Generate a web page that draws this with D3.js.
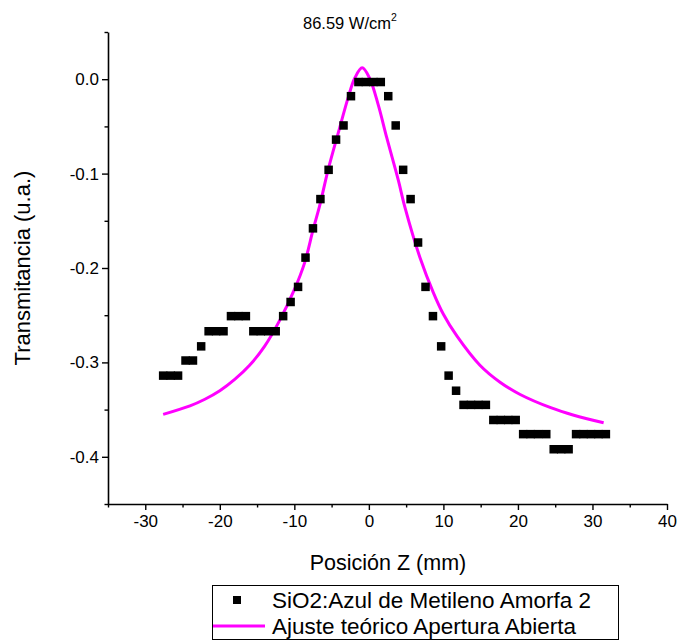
<!DOCTYPE html>
<html>
<head>
<meta charset="utf-8">
<script src="https://cdn.jsdelivr.net/npm/d3@7"></script>
<style>
  body { margin: 0; background: #fff; }
  svg { font-family: "Liberation Sans", Arial, sans-serif; }
</style>
</head>
<body>
<div id="chart-area"></div>
<script>
const width = 681;
const height = 642;

// measured points (position Z in mm, transmittance)
const posZ = [-27.6, -26.6, -25.6, -24.6, -23.6, -22.5, -21.5, -20.5, -19.5, -18.5,
  -17.5, -16.5, -15.5, -14.5, -13.5, -12.5, -11.5, -10.5, -9.5, -8.5,
  -7.5, -6.5, -5.4, -4.4, -3.4, -2.4, -1.4, -0.4, 0.6, 1.6,
  2.6, 3.6, 4.6, 5.6, 6.6, 7.6, 8.6, 9.7, 10.7, 11.7,
  12.7, 13.7, 14.7, 15.7, 16.7, 17.7, 18.7, 19.7, 20.7, 21.7,
  22.7, 23.8, 24.8, 25.8, 26.8, 27.8, 28.8, 29.8, 30.8, 31.8];
const transData = [-0.314, -0.314, -0.314, -0.298, -0.298, -0.283, -0.267, -0.267, -0.267, -0.251,
  -0.251, -0.251, -0.267, -0.267, -0.267, -0.267, -0.251, -0.236, -0.220, -0.189,
  -0.158, -0.127, -0.096, -0.064, -0.049, -0.018, -0.003, -0.003, -0.003, -0.003,
  -0.018, -0.049, -0.096, -0.127, -0.173, -0.220, -0.251, -0.283, -0.314, -0.330,
  -0.345, -0.345, -0.345, -0.345, -0.361, -0.361, -0.361, -0.361, -0.376, -0.376,
  -0.376, -0.376, -0.392, -0.392, -0.392, -0.376, -0.376, -0.376, -0.376, -0.376];

// theoretical fit
const fitZ = [-27.6, -24, -22, -20, -18, -16, -14, -12, -10, -8.6, -7.5, -6.6, -5.5, -3.9, -2.8, -1.9,
  -0.9, 0.1, 1.25, 2.4, 3.95, 4.85, 6.9, 8.65, 10, 11.8, 14.9, 17.6, 20.3, 24.4, 27.5, 31.5];
const fitT = [-0.355, -0.346, -0.339, -0.330, -0.318, -0.303, -0.283, -0.256, -0.223, -0.194, -0.160, -0.134, -0.097, -0.051, -0.020, 0.001,
  0.012, 0.001, -0.027, -0.062, -0.107, -0.136, -0.190, -0.226, -0.249, -0.272, -0.303, -0.321, -0.334, -0.348, -0.356, -0.364];

const xMajor = [-30, -20, -10, 0, 10, 20, 30, 40];
const xMinor = [-35, -25, -15, -5, 5, 15, 25, 35];
const yMajor = [-0.4, -0.3, -0.2, -0.1, 0.0];
const yMinor = [-0.45, -0.35, -0.25, -0.15, -0.05, 0.05];

const titleText = '86.59 W/cm';
const xTitle = 'Posición Z (mm)';
const yTitle = 'Transmitancia (u.a.)';
const legendNames = ['SiO2:Azul de Metileno Amorfa 2', 'Ajuste teórico Apertura Abierta'];

const margin = {top: 32, left: 108, bottom: 138, right: 14};

const x = d3.scaleLinear()
  .domain([-35, 40])
  .range([margin.left, width - margin.right]);

const y = d3.scaleLinear()
  .domain([-0.45, 0.05])
  .range([height - margin.bottom, margin.top]);

const svg = d3.select('#chart-area').append('svg')
  .attr('width', width)
  .attr('height', height);

// x axis (major + minor ticks)
svg.append('g')
  .attr('transform', `translate(0, ${y(-0.45)})`)
  .call(d3.axisBottom(x).tickValues(xMajor).tickSize(6).tickSizeOuter(0).tickFormat(d => String(d)))
  .call(g => g.selectAll('text').attr('font-size', 17).attr('fill', '#000').attr('y', 11))
  .call(g => g.select('.domain').attr('stroke-width', 1.6))
  .call(g => g.selectAll('.tick line').attr('stroke-width', 1.4));
svg.append('g')
  .attr('transform', `translate(0, ${y(-0.45)})`)
  .call(d3.axisBottom(x).tickValues(xMinor).tickSize(3.5).tickSizeOuter(0).tickFormat(''))
  .call(g => g.select('.domain').remove())
  .call(g => g.selectAll('.tick line').attr('stroke-width', 1.4));

// y axis
svg.append('g')
  .attr('transform', `translate(${x(-35)}, 0)`)
  .call(d3.axisLeft(y).tickValues(yMajor).tickSize(6).tickSizeOuter(0).tickFormat(d => d.toFixed(1)))
  .call(g => g.selectAll('text').attr('font-size', 17).attr('fill', '#000').attr('x', -9))
  .call(g => g.select('.domain').attr('stroke-width', 1.6))
  .call(g => g.selectAll('.tick line').attr('stroke-width', 1.4));
svg.append('g')
  .attr('transform', `translate(${x(-35)}, 0)`)
  .call(d3.axisLeft(y).tickValues(yMinor).tickSize(3.5).tickSizeOuter(0).tickFormat(''))
  .call(g => g.select('.domain').remove())
  .call(g => g.selectAll('.tick line').attr('stroke-width', 1.4));

// titles
const title = svg.append('text')
  .attr('x', 303).attr('y', 29)
  .attr('font-size', 16.5)
  .text(titleText);
title.append('tspan').attr('font-size', 10.5).attr('dy', -8).text('2');

svg.append('text')
  .attr('x', 388).attr('y', 570)
  .attr('text-anchor', 'middle')
  .attr('font-size', 21.5)
  .text(xTitle);

svg.append('text')
  .attr('transform', 'translate(30, 268) rotate(-90)')
  .attr('text-anchor', 'middle')
  .attr('font-size', 22)
  .text(yTitle);

// fit curve
const fitData = fitZ.map((z, i) => ({z: z, t: fitT[i]}));
const line = d3.line()
  .x(d => x(d.z))
  .y(d => y(d.t))
  .curve(d3.curveCatmullRom.alpha(0.5));

svg.append('path')
  .datum(fitData)
  .attr('d', line)
  .attr('fill', 'none')
  .attr('stroke', '#ff00ff')
  .attr('stroke-width', 3);

// data squares
const sq = 8.5;
svg.append('g')
  .selectAll('rect').data(posZ.map((z, i) => ({z: z, t: transData[i]}))).enter().append('rect')
  .attr('x', d => x(d.z) - sq / 2)
  .attr('y', d => y(d.t) - sq / 2)
  .attr('width', sq)
  .attr('height', sq)
  .attr('fill', '#000');

// legend
const legend = svg.append('g');
legend.append('rect')
  .attr('x', 212.5).attr('y', 585.5)
  .attr('width', 406).attr('height', 54)
  .attr('fill', '#fff')
  .attr('stroke', '#000')
  .attr('stroke-width', 1);
legend.append('rect')
  .attr('x', 237 - 4).attr('y', 600 - 4)
  .attr('width', 8).attr('height', 8)
  .attr('fill', '#000');
legend.append('line')
  .attr('x1', 213).attr('x2', 265)
  .attr('y1', 626).attr('y2', 626)
  .attr('stroke', '#ff00ff')
  .attr('stroke-width', 3);
legend.selectAll('text.leg').data(legendNames).enter().append('text')
  .attr('class', 'leg')
  .attr('x', 272)
  .attr('y', (d, i) => 608 + i * 26)
  .attr('font-size', 22.5)
  .text(d => d);
</script>
</body>
</html>
